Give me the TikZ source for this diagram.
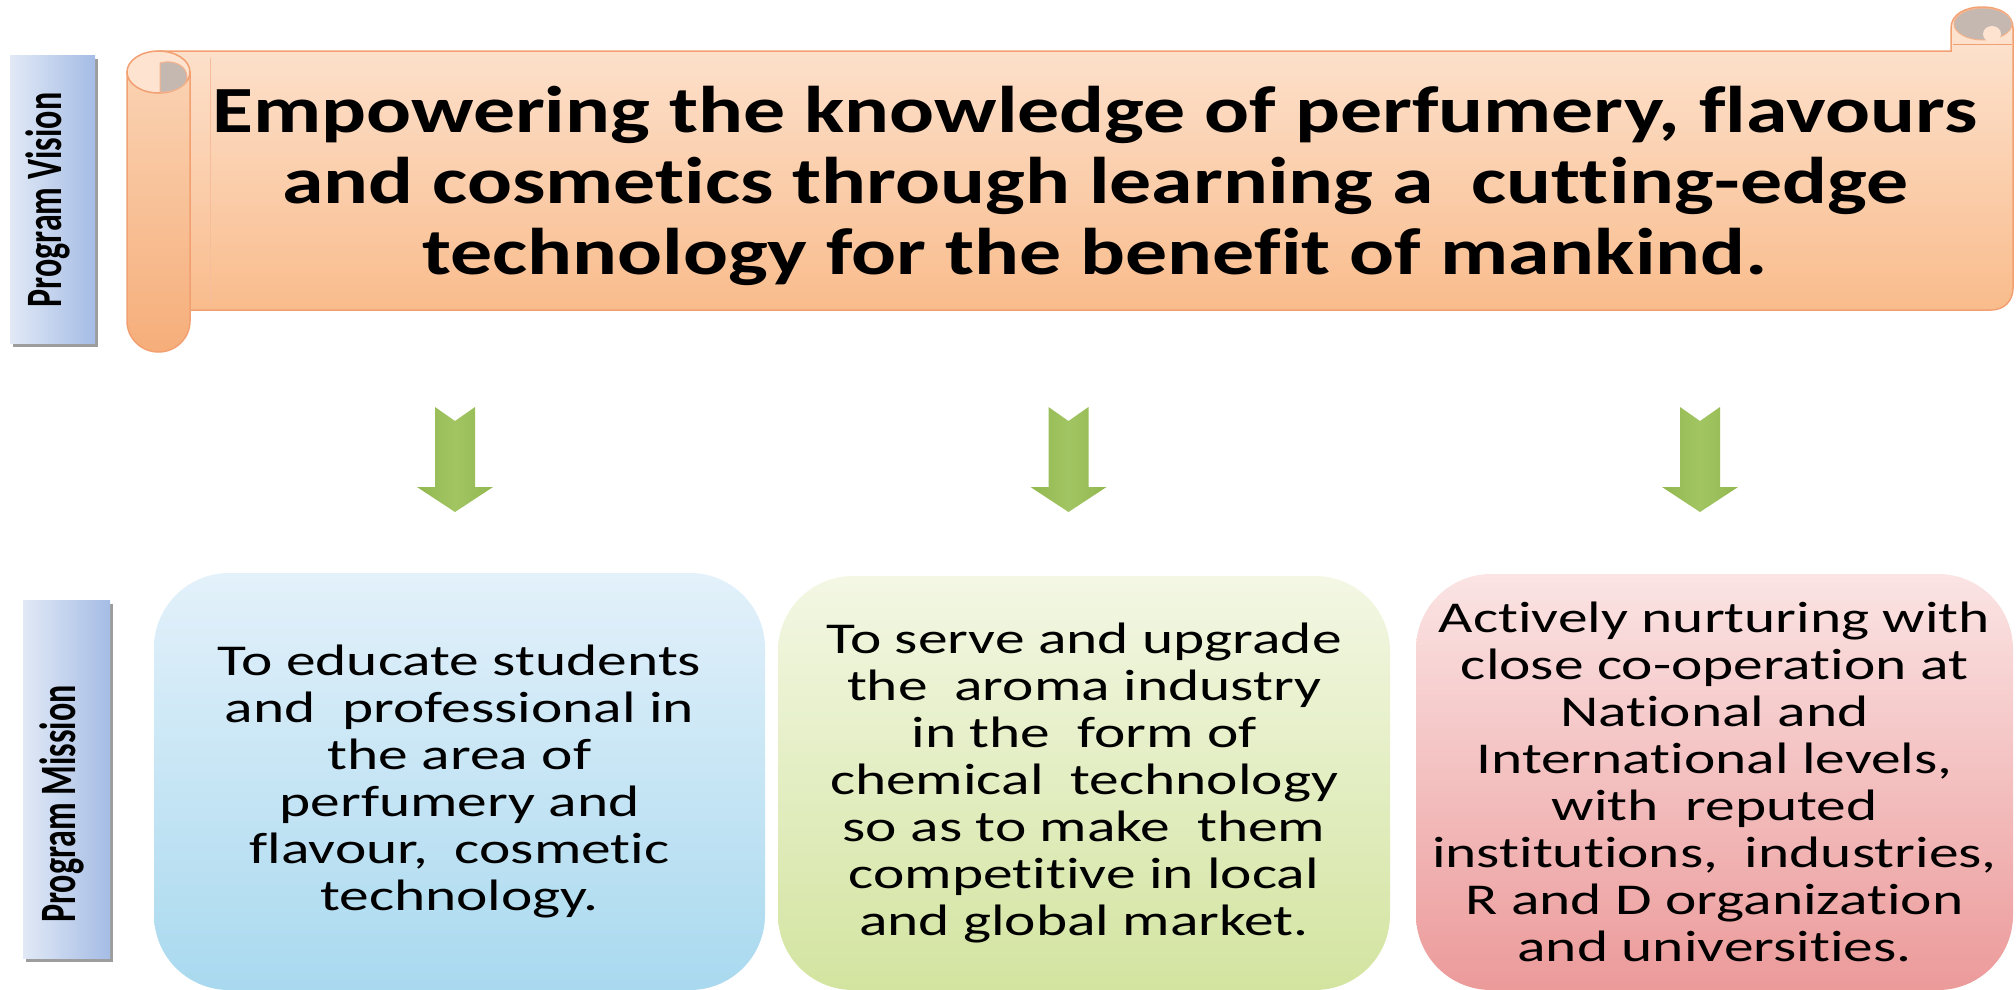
\documentclass[tikz,border=0pt]{standalone}
\usepackage{fontspec}
\newfontfamily\scrollfont[FakeStretch=1.27, Ligatures=NoCommon]{Carlito}
\newfontfamily\boxfont[FakeStretch=1.35, Ligatures=NoCommon]{Carlito}
\newfontfamily\labelfont[FakeStretch=0.667, Ligatures=NoCommon]{Carlito}
\usetikzlibrary{shadows}
\definecolor{scrollTop}{HTML}{FDE6D5}
\definecolor{scrollBot}{HTML}{F9BC8C}
\definecolor{scrollLine}{HTML}{F2A071}
\definecolor{rollTop}{HTML}{FAD2B2}
\definecolor{rollBot}{HTML}{F6AE7A}
\definecolor{capFill}{HTML}{FDE3D0}
\definecolor{curl}{HTML}{C4B8B0}
\definecolor{lblL}{HTML}{E1E9F6}
\definecolor{lblR}{HTML}{A5BCE5}
\definecolor{bOneT}{HTML}{E3F1FA}
\definecolor{bOneB}{HTML}{A9D9EF}
\definecolor{bTwoT}{HTML}{F3F7E4}
\definecolor{bTwoB}{HTML}{D3E4A0}
\definecolor{bThreeT}{HTML}{FBE4E4}
\definecolor{bThreeB}{HTML}{EC9A9A}
\definecolor{arrowGreen}{HTML}{92B84F}
\definecolor{arrowLight}{HTML}{A2C563}
\tikzset{
  labelbox/.style={draw=none, inner sep=0, left color=lblL, right color=lblR,
    drop shadow={shadow xshift=3pt, shadow yshift=-4pt, opacity=0.55, fill=black!70}},
  labeltext/.style={rotate=90, inner sep=0, text=black,
    font={\labelfont\bfseries\fontsize{51}{60}\selectfont}},
  missionbox/.style={rounded corners=75pt, inner sep=0, align=center, draw=none, text=black,
    font={\boxfont\fontsize{44}{47}\selectfont}},
  scrolltext/.style={align=center, inner sep=0, text=black,
    font={\scrollfont\bfseries\fontsize{66}{71}\selectfont}},
  scrolledge/.style={draw=scrollLine, line width=1.5pt},
  blockarrow/.style={left color=arrowGreen, right color=arrowGreen, middle color=arrowLight, draw=none}
}
\begin{document}
\begin{tikzpicture}[x=1pt,y=-1pt]
\useasboundingbox (0,0) rectangle (2016,989);

% ---- scroll body ----
\path[scrolledge, top color=scrollTop, bottom color=scrollBot]
  (158,51) -- (1951,51) -- (1951,28)
  .. controls (1951,14) and (1966,7) .. (1982,7)
  .. controls (1999,7) and (2013,14) .. (2013,28)
  -- (2013,288) .. controls (2013,301) and (2004,310) .. (1991,310)
  -- (158,310) -- cycle;
% right roll curl
\path[fill=curl, draw=scrollLine!80, line width=1pt] (1983,24) ellipse [x radius=29, y radius=16];
\path[fill=capFill] (1992,34) ellipse [x radius=9, y radius=8];
\draw[scrollLine, line width=1pt] (1953,44) -- (2012,44);
% fold line
\draw[scrollLine!70, line width=1pt] (210,58) -- (210,306);
% left roll
\path[scrolledge, top color=rollTop, bottom color=rollBot]
  (127,72) -- (127,321) .. controls (127,338) and (141,352) .. (158.5,352)
  .. controls (176,352) and (190,338) .. (190,321) -- (190,72) -- cycle;
\path[scrolledge, fill=capFill] (158.5,72) ellipse [x radius=31.5, y radius=21];
\path[fill=curl, draw=scrollLine!80, line width=1pt]
  (160,92) -- (160,63) .. controls (174,59) and (187,66) .. (187,77)
  .. controls (187,86) and (175,93) .. (160,92) -- cycle;

\node[scrolltext] (vision) at (1095,186)
  {Empowering the knowledge of perfumery, flavours\\
   and cosmetics through learning a\ \ cutting-edge\\
   technology for the benefit of mankind.};

% ---- side labels ----
\node[labelbox, minimum width=85, minimum height=288] (visbox) at (52.5,199) {};
\node[labeltext] (vistext) at (48,200) {Program Vision};
\node[labelbox, minimum width=87, minimum height=358] (misbox) at (66.5,779) {};
\node[labeltext] (mistext) at (62,804) {Program Mission};

% ---- arrows ----
\foreach \cx/\nm in {455/a, 1068.5/b, 1700/c}{
  \coordinate (\nm top) at (\cx,407);
  \coordinate (\nm tip) at (\cx,512);
  \path[blockarrow]
    (\cx-20,407) -- (\cx,421) -- (\cx+20,407) -- (\cx+20,487) -- (\cx+38,487)
    -- (\nm tip) -- (\cx-38,487) -- (\cx-20,487) -- cycle;
}

% ---- mission boxes ----
\node[missionbox, top color=bOneT, bottom color=bOneB, minimum width=611, minimum height=417]
  (m1) at (459.5,781.5)
  {To educate students\\and\ \ professional in\\the area of\\perfumery and\\flavour,\ \ cosmetic\\technology.};
\node[missionbox, top color=bTwoT, bottom color=bTwoB, minimum width=612, minimum height=414]
  (m2) at (1084,783)
  {To serve and upgrade\\the\ \ aroma industry\\in the\ \ form of\\chemical\ \ technology\\so as to make\ \ them\\competitive in local\\and global market.};
\node[missionbox, top color=bThreeT, bottom color=bThreeB, minimum width=597, minimum height=416]
  (m3) at (1714.5,782)
  {Actively nurturing with\\close co-operation at\\National and\\International levels,\\with\ \ reputed\\institutions,\ \ industries,\\R and D organization\\and universities.};
\end{tikzpicture}
\end{document}
